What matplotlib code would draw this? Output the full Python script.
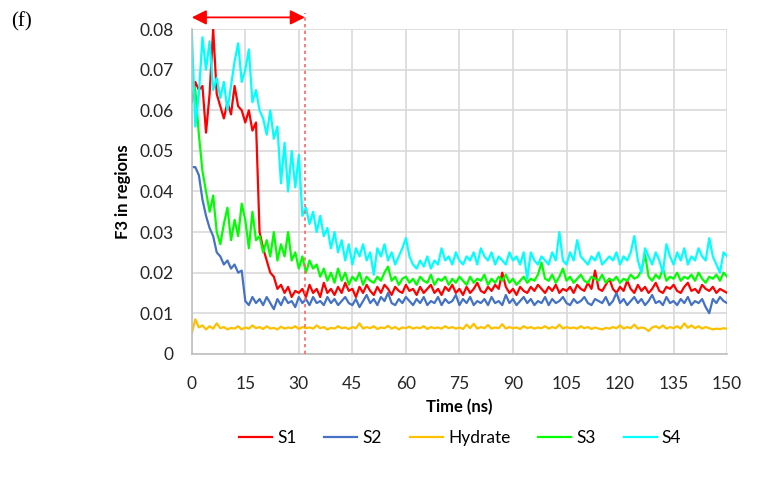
import matplotlib
matplotlib.use("Agg")
import matplotlib.pyplot as plt

plt.rcParams['font.family'] = ['Lato', 'DejaVu Sans']

# time axis (ns), one sample per ns
time_ns = list(range(0, 151))

s1 = [.0620, .0670, .0650, .0660, .0545, .0640, .0800, .0640, .0610, .0580,
      .0620, .0590, .0660, .0610, .0600, .0570, .0600, .0550, .0570, .0300,
      .0260, .0230, .0200, .0190, .0160, .0170, .0150, .0165, .0140, .0155,
      .0150, .0160, .0140, .0170, .0150, .0160, .0140, .0175, .0150, .0160,
      .0145, .0165, .0150, .0175, .0155, .0160, .0140, .0165, .0150, .0170,
      .0155, .0145, .0165, .0150, .0170, .0160, .0145, .0165, .0155, .0150,
      .0170, .0155, .0160, .0145, .0165, .0150, .0160, .0170, .0150, .0160,
      .0145, .0165, .0155, .0170, .0150, .0160, .0145, .0165, .0150, .0160,
      .0175, .0155, .0150, .0165, .0155, .0170, .0160, .0200, .0165, .0150,
      .0160, .0145, .0165, .0155, .0150, .0165, .0155, .0170, .0160, .0150,
      .0165, .0155, .0170, .0150, .0160, .0155, .0165, .0150, .0170, .0160,
      .0155, .0175, .0160, .0205, .0160, .0155, .0170, .0185, .0160, .0150,
      .0165, .0155, .0180, .0160, .0150, .0170, .0155, .0165, .0150, .0160,
      .0175, .0155, .0150, .0165, .0160, .0170, .0155, .0150, .0165, .0175,
      .0155, .0160, .0150, .0170, .0160, .0155, .0165, .0150, .0160, .0155,
      .0150]

s2 = [.0460, .0460, .0440, .0380, .0340, .0310, .0290, .0250, .0240, .0220,
      .0230, .0210, .0220, .0200, .0205, .0130, .0120, .0140, .0125, .0135,
      .0120, .0140, .0125, .0110, .0135, .0120, .0140, .0125, .0130, .0115,
      .0140, .0125, .0135, .0120, .0140, .0125, .0130, .0120, .0140, .0125,
      .0135, .0120, .0130, .0140, .0125, .0120, .0135, .0115, .0130, .0145,
      .0125, .0135, .0120, .0140, .0130, .0150, .0125, .0120, .0135, .0125,
      .0140, .0130, .0120, .0135, .0125, .0140, .0120, .0130, .0125, .0140,
      .0120, .0135, .0125, .0130, .0145, .0120, .0135, .0125, .0140, .0120,
      .0130, .0125, .0135, .0120, .0140, .0125, .0130, .0120, .0145, .0125,
      .0135, .0120, .0130, .0140, .0125, .0135, .0120, .0130, .0125, .0140,
      .0120, .0135, .0125, .0130, .0140, .0125, .0120, .0135, .0125, .0130,
      .0140, .0125, .0120, .0135, .0130, .0125, .0140, .0120, .0130, .0150,
      .0125, .0135, .0120, .0130, .0140, .0125, .0135, .0120, .0130, .0145,
      .0125, .0130, .0120, .0140, .0125, .0130, .0120, .0135, .0125, .0140,
      .0120, .0130, .0125, .0135, .0115, .0100, .0135, .0125, .0140, .0130,
      .0125]

hydrate = [.0050, .0085, .0065, .0070, .0060, .0068, .0062, .0075, .0063, .0066,
           .0060, .0064, .0062, .0068, .0060, .0065, .0062, .0070, .0063, .0066,
           .0061, .0068, .0062, .0064, .0060, .0067, .0062, .0065, .0063, .0068,
           .0061, .0066, .0063, .0065, .0062, .0070, .0063, .0066, .0060, .0064,
           .0062, .0068, .0063, .0065, .0061, .0066, .0063, .0075, .0062, .0066,
           .0063, .0068, .0061, .0065, .0063, .0069, .0062, .0066, .0060, .0065,
           .0063, .0067, .0062, .0065, .0063, .0068, .0061, .0066, .0063, .0065,
           .0062, .0068, .0063, .0066, .0062, .0065, .0061, .0072, .0063, .0074,
           .0062, .0066, .0063, .0071, .0062, .0065, .0063, .0073, .0062, .0066,
           .0063, .0065, .0061, .0068, .0063, .0066, .0062, .0065, .0063, .0068,
           .0062, .0066, .0063, .0072, .0062, .0066, .0063, .0065, .0062, .0068,
           .0063, .0066, .0061, .0065, .0062, .0060, .0064, .0062, .0066, .0063,
           .0070, .0062, .0066, .0063, .0072, .0062, .0065, .0063, .0056, .0065,
           .0068, .0063, .0070, .0062, .0066, .0063, .0068, .0062, .0075, .0064,
           .0070, .0063, .0068, .0062, .0066, .0063, .0060, .0062, .0061, .0063,
           .0062]

s3 = [.0670, .0650, .0540, .0450, .0400, .0350, .0390, .0300, .0270, .0320,
      .0360, .0280, .0330, .0290, .0370, .0330, .0260, .0350, .0280, .0290,
      .0250, .0280, .0240, .0300, .0230, .0270, .0240, .0300, .0230, .0250,
      .0210, .0240, .0200, .0230, .0210, .0220, .0190, .0210, .0180, .0200,
      .0175, .0210, .0180, .0200, .0170, .0190, .0180, .0200, .0170, .0190,
      .0180, .0175, .0190, .0180, .0200, .0215, .0180, .0190, .0170, .0185,
      .0190, .0175, .0185, .0170, .0190, .0180, .0175, .0195, .0170, .0185,
      .0180, .0190, .0170, .0185, .0175, .0190, .0180, .0170, .0190, .0175,
      .0185, .0180, .0195, .0170, .0185, .0175, .0190, .0180, .0195, .0175,
      .0185, .0170, .0180, .0190, .0175, .0185, .0180, .0195, .0225, .0185,
      .0180, .0195, .0175, .0190, .0210, .0180, .0190, .0175, .0185, .0195,
      .0180, .0175, .0190, .0185, .0180, .0195, .0175, .0185, .0180, .0190,
      .0175, .0185, .0180, .0195, .0185, .0190, .0205, .0245, .0190, .0180,
      .0195, .0185, .0210, .0180, .0190, .0185, .0200, .0180, .0190, .0185,
      .0195, .0180, .0200, .0185, .0175, .0190, .0185, .0195, .0180, .0200,
      .0190]

s4 = [.0800, .0560, .0640, .0780, .0700, .0770, .0650, .0680, .0630, .0670,
      .0600, .0660, .0720, .0765, .0670, .0700, .0750, .0620, .0650, .0600,
      .0580, .0540, .0600, .0530, .0560, .0420, .0520, .0400, .0500, .0410,
      .0490, .0340, .0360, .0320, .0350, .0300, .0340, .0290, .0310, .0260,
      .0300, .0250, .0280, .0230, .0270, .0220, .0260, .0240, .0270, .0230,
      .0250, .0195, .0260, .0240, .0270, .0230, .0250, .0220, .0240, .0260,
      .0285, .0240, .0220, .0210, .0230, .0215, .0240, .0210, .0230, .0220,
      .0260, .0230, .0240, .0220, .0250, .0230, .0220, .0240, .0230, .0250,
      .0220, .0260, .0240, .0230, .0250, .0220, .0240, .0230, .0220, .0250,
      .0230, .0240, .0220, .0250, .0185, .0250, .0230, .0220, .0240, .0230,
      .0220, .0250, .0230, .0300, .0230, .0220, .0250, .0230, .0280, .0240,
      .0230, .0220, .0240, .0230, .0250, .0220, .0230, .0240, .0230, .0250,
      .0220, .0240, .0230, .0250, .0290, .0230, .0200, .0260, .0240, .0220,
      .0250, .0230, .0200, .0270, .0240, .0220, .0250, .0230, .0260, .0220,
      .0240, .0230, .0260, .0240, .0230, .0285, .0240, .0220, .0200, .0250,
      .0240]

series_names = ["S1", "S2", "Hydrate", "S3", "S4"]
series_colors = ["#FF0000", "#4472C4", "#FFC000", "#00FF00", "#00FFFF"]
x_ticks = list(range(0, 151, 15))
y_ticks = [0, 0.01, 0.02, 0.03, 0.04, 0.05, 0.06, 0.07, 0.08]
y_ticklabels = ["0", "0.01", "0.02", "0.03", "0.04", "0.05", "0.06", "0.07", "0.08"]
marker_time = 31.7   # end of the initial stage (arrow + dashed line)

fig = plt.figure(figsize=(7.67, 4.86), dpi=100)
ax = fig.add_axes([0.250, 0.272, 0.698, 0.668])

for vals, name, col in zip([s1, s2, hydrate, s3, s4], series_names, series_colors):
    ax.plot(time_ns, vals, color=col, lw=1.6, label=name)

ax.set_xlim(0, 150)
ax.set_ylim(0, 0.08)
ax.set_xticks(x_ticks)
ax.set_yticks(y_ticks)
ax.set_yticklabels(y_ticklabels)
ax.tick_params(length=0, labelsize=12.5, colors="#262626")
ax.tick_params(axis="y", pad=13)
ax.tick_params(axis="x", pad=16)
ax.grid(True, color="#D9D9D9", lw=1.2)
ax.set_axisbelow(True)
for side in ["top", "right"]:
    ax.spines[side].set_visible(False)
for side in ["left", "bottom"]:
    ax.spines[side].set_color("#BFBFBF")
    ax.spines[side].set_linewidth(1.2)

ax.set_xlabel("Time (ns)", fontsize=12, fontweight="bold", labelpad=5)
ax.set_ylabel("F3 in regions", fontsize=12, fontweight="bold", labelpad=6)

# double arrow above plot and dashed marker line
ax.annotate("", xy=(0, 0.0829), xytext=(marker_time, 0.0829),
            arrowprops=dict(arrowstyle="<|-|>", color="#FF0000", lw=1.3,
                            mutation_scale=22, shrinkA=0, shrinkB=0),
            annotation_clip=False)
ax.plot([marker_time, marker_time], [0.0, 0.0840], color="#FF6666", lw=1.2,
        ls=(0, (2, 2)), clip_on=False, zorder=5)

fig.text(0.014, 0.955, "(f)", fontsize=15, family="Liberation Serif", va="center")

fig.legend(loc="center", bbox_to_anchor=(0.60, 0.099), ncol=5, frameon=False,
           fontsize=12.5, handlelength=1.9, columnspacing=1.6, handletextpad=0.3)

fig.savefig("out.png", dpi=100)
